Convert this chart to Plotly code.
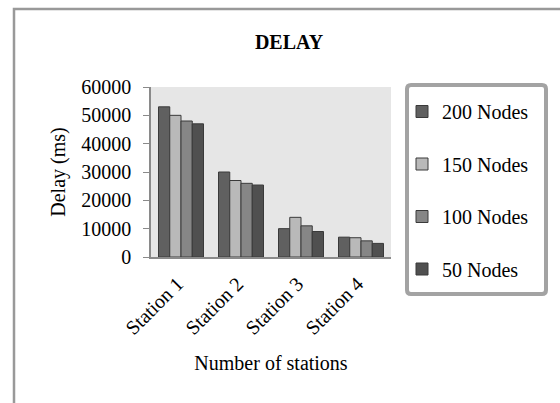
import plotly.graph_objects as go

categories = ["Station 1", "Station 2", "Station 3", "Station 4"]
series_names = ["200 Nodes", "150 Nodes", "100 Nodes", "50 Nodes"]
nodes_200 = [53000, 30000, 10000, 7000]
nodes_150 = [50000, 27000, 14000, 6800]
nodes_100 = [48000, 26000, 11000, 5700]
nodes_50 = [47000, 25400, 9000, 4800]
y_ticks = [0, 10000, 20000, 30000, 40000, 50000, 60000]

series_values = [nodes_200, nodes_150, nodes_100, nodes_50]
colors = ["#606060", "#b9b9b9", "#868686", "#505050"]

FONT = "Liberation Serif, Times New Roman, serif"
W, H = 560, 403
L, R, T, B = 151, 169, 87, 146
pw, ph = W - L - R, H - T - B

def px_x(p):
    return (p - L) / pw

def px_y(p):
    return (H - B - p) / ph

fig = go.Figure()
for i, (name, vals) in enumerate(zip(series_names, series_values)):
    fig.add_trace(go.Bar(
        x=categories, y=vals, name=name,
        marker=dict(color=colors[i], line=dict(color="#3a3a3a", width=1)),
        legendgroup=name,
    ))

shapes = [
    dict(type="rect", xref="paper", yref="paper",
         x0=px_x(14), x1=px_x(640), y0=px_y(9), y1=px_y(480),
         line=dict(color="#999999", width=2.5), fillcolor="rgba(0,0,0,0)", layer="below"),
]
x0, x1, y0, y1, r = px_x(407), px_x(546), px_y(85), px_y(294), 4
rx, ry = r / pw, r / ph
path = (f"M {x0+rx},{y0} L {x1-rx},{y0} Q {x1},{y0} {x1},{y0-ry} "
        f"L {x1},{y1+ry} Q {x1},{y1} {x1-rx},{y1} L {x0+rx},{y1} "
        f"Q {x0},{y1} {x0},{y1+ry} L {x0},{y0-ry} Q {x0},{y0} {x0+rx},{y0} Z")
shapes.append(dict(type="path", xref="paper", yref="paper", path=path,
                   line=dict(color="#a3a3a3", width=4), fillcolor="white", layer="below"))

fig.update_layout(
    width=W, height=H,
    margin=dict(l=L, r=R, t=T, b=B, autoexpand=False),
    paper_bgcolor="white", plot_bgcolor="#e6e6e6",
    font=dict(family=FONT, size=20, color="black"),
    title=dict(text="<b>DELAY</b>", x=289 / W, xanchor="center", y=1 - 42 / H, yanchor="middle",
               font=dict(family=FONT, size=20, color="black")),
    barmode="group", bargap=0.25, bargroupgap=0,
    showlegend=True,
    legend=dict(x=px_x(402), xanchor="left", y=px_y(92), yanchor="top",
                bgcolor="rgba(0,0,0,0)", borderwidth=0, maxheight=400,
                font=dict(family=FONT, size=20, color="black"),
                tracegroupgap=23.5, traceorder="grouped"),
    shapes=shapes,
    xaxis=dict(
        tickangle=-45, showgrid=False, showline=True, linecolor="#8a8a8a", linewidth=1.5,
        ticks="", tickfont=dict(family=FONT, size=20), ticklabelstandoff=2,
        tickvals=categories, ticktext=[c + "\u00a0" for c in categories],
        title=dict(text="Number of stations", font=dict(family=FONT, size=20), standoff=18),
    ),
    yaxis=dict(
        range=[0, 60000], tickvals=y_ticks, ticktext=[str(v) for v in y_ticks],
        showgrid=False, showline=True, linecolor="#8a8a8a", linewidth=1.5,
        ticks="outside", ticklen=6, tickcolor="#8a8a8a", tickfont=dict(family=FONT, size=20),
        ticklabelstandoff=8, zeroline=False,
        title=dict(text="Delay (ms)", font=dict(family=FONT, size=20), standoff=10),
    ),
)

fig.write_html("out.html", config={"displayModeBar": False},
               post_script="document.body.style.margin='0';")
